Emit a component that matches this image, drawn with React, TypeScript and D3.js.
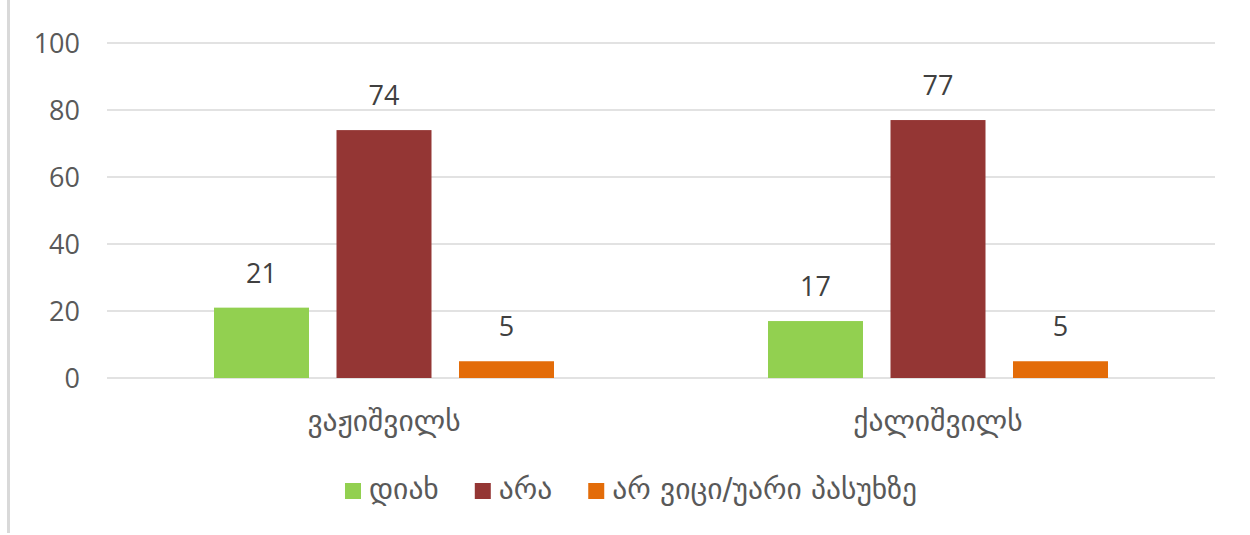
import React, { useEffect, useRef } from 'react';
import * as d3 from 'd3';

const categories = ['ვაჟიშვილს', 'ქალიშვილს'];
const seriesNames = ['დიახ', 'არა', 'არ ვიცი/უარი პასუხზე'];
const yesValues = [21, 17];
const noValues = [74, 77];
const dontKnowValues = [5, 5];
const yTicks = [0, 20, 40, 60, 80, 100];
const colors = ['#92D050', '#943634', '#E36C09'];

const W = 1250;
const H = 535;
const numFont = '"Open Sans", "DejaVu Sans", sans-serif';
const geoFont = '"DejaVu Sans", sans-serif';
const textColor = '#595959';

const App = () => {
  const ref = useRef<SVGSVGElement>(null);

  useEffect(() => {
    const svg = d3.select(ref.current);
    svg.selectAll('*').remove();

    const series = [yesValues, noValues, dontKnowValues];

    const x0 = d3.scaleBand().domain(categories).range([107, 1215]);
    const x1 = d3.scaleBand()
      .domain(seriesNames)
      .range([107, 447])
      .paddingInner(0.2245);
    const y = d3.scaleLinear().domain([0, 100]).range([378, 43]);

    // left frame edge
    svg.append('rect')
      .attr('x', 7).attr('y', 0).attr('width', 3).attr('height', 533)
      .attr('fill', '#d9d9d9');

    // gridlines
    svg.append('g').selectAll('line')
      .data(yTicks)
      .join('line')
      .attr('x1', 107).attr('x2', 1215)
      .attr('y1', d => y(d)).attr('y2', d => y(d))
      .attr('stroke', '#d9d9d9').attr('stroke-width', 1.5);

    // y tick labels
    svg.append('g').selectAll('text')
      .data(yTicks)
      .join('text')
      .attr('x', 80)
      .attr('y', d => y(d))
      .attr('dy', '0.36em')
      .attr('text-anchor', 'end')
      .attr('font-family', numFont)
      .attr('font-size', 27)
      .attr('fill', textColor)
      .text(d => d);

    // bars + labels
    const groups = svg.append('g').selectAll('g')
      .data(categories)
      .join('g')
      .attr('transform', c => `translate(${x0(c)},0)`);

    seriesNames.forEach((s, si) => {
      groups.append('rect')
        .attr('x', x1(s)!)
        .attr('width', x1.bandwidth())
        .attr('y', (_c, ci) => y(series[si][ci]))
        .attr('height', (_c, ci) => y(0) - y(series[si][ci]))
        .attr('fill', colors[si]);

      groups.append('text')
        .attr('x', x1(s)! + x1.bandwidth() / 2)
        .attr('y', (_c, ci) => y(series[si][ci]) - 25)
        .attr('text-anchor', 'middle')
        .attr('font-family', numFont)
        .attr('font-size', 27)
        .attr('fill', '#404040')
        .text((_c, ci) => series[si][ci]);
    });

    // category labels
    svg.append('g').selectAll('text')
      .data(categories)
      .join('text')
      .attr('x', c => x0(c)! + x0.bandwidth() / 2)
      .attr('y', 431)
      .attr('text-anchor', 'middle')
      .attr('font-family', geoFont)
      .attr('font-size', 29.5)
      .attr('fill', textColor)
      .text(c => c);

    // legend
    const legend = svg.append('g');
    let cx = 0;
    seriesNames.forEach((s, i) => {
      const item = legend.append('g').attr('transform', `translate(${cx},0)`);
      item.append('rect')
        .attr('x', 0).attr('y', -8).attr('width', 16).attr('height', 16)
        .attr('fill', colors[i]);
      const t = item.append('text')
        .attr('x', 24)
        .attr('y', 8)
        .attr('font-family', geoFont)
        .attr('font-size', 29.5)
        .attr('fill', textColor)
        .text(s);
      const tw = (t.node() as SVGTextElement).getComputedTextLength();
      cx += 24 + tw + 36;
    });
    const totalW = cx - 36;
    legend.attr('transform', `translate(${(W - totalW) / 2 + 6},491)`);
  }, []);

  return (
    <svg
      ref={ref}
      width={W}
      height={H}
      style={{ position: 'absolute', left: 0, top: 0, background: '#fff' }}
    />
  );
};

export default App;
